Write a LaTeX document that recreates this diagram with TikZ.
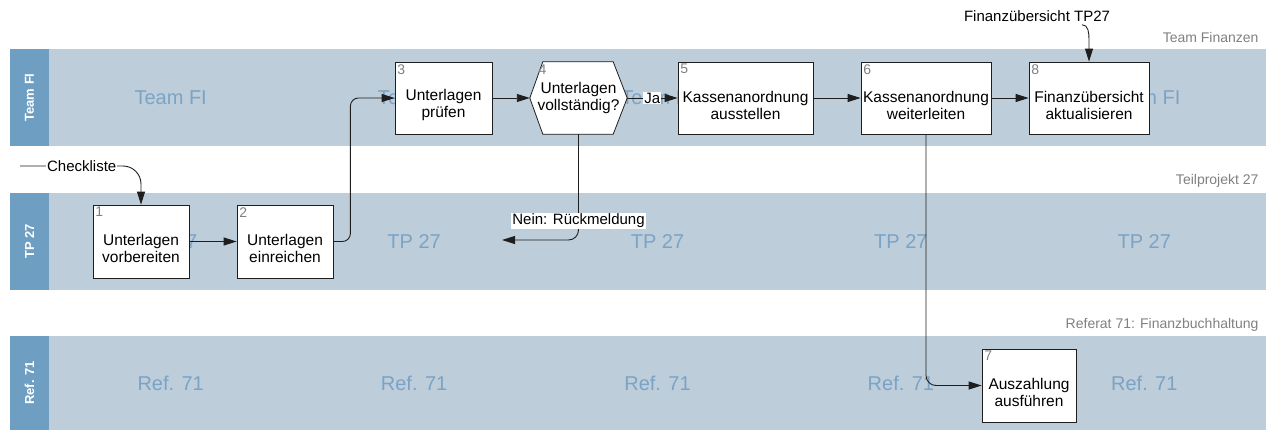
\documentclass[tikz,border=0pt]{standalone}
\usepackage{fontspec}
\setmainfont{Liberation Sans}
\usetikzlibrary{arrows.meta}

\definecolor{lanefill}{RGB}{190,205,218}
\definecolor{lanehead}{RGB}{110,158,194}
\definecolor{lanemark}{RGB}{122,163,198}
\definecolor{titlegray}{RGB}{128,128,128}
\definecolor{linegray}{RGB}{30,30,30}

\begin{document}
\begin{tikzpicture}[x=1pt, y=-1pt, >={Triangle[length=13pt,width=8pt]},
  box/.style={draw=linegray, line width=0.8pt, fill=white, inner sep=0pt},
  boxtext/.style={align=center, inner sep=1pt, font=\fontsize{15.5}{17}\selectfont},
  num/.style={anchor=north west, inner sep=2.5pt, text=titlegray, font=\fontsize{14}{14}\selectfont},
  flow/.style={->, draw=linegray, line width=0.9pt},
  lbl/.style={fill=white, sharp corners, inner sep=1pt, font=\fontsize{15}{17}\selectfont},
  headtext/.style={rotate=90, text=white, font=\bfseries\fontsize{13}{13}\selectfont},
  wmark/.style={text=lanemark, font=\fontsize{20}{20}\selectfont},
  lanetitle/.style={anchor=east, text=titlegray, font=\fontsize{14}{14}\selectfont}]

  % 全体の大きさ
  \useasboundingbox (0,0) rectangle (1271,431);

  % レーン (Team FI, TP 27, Ref. 71)
  \fill[lanehead] (10,49) rectangle (49,146);
  \fill[lanefill] (49,49) rectangle (1266,146);
  \fill[lanehead] (10,193) rectangle (49,290);
  \fill[lanefill] (49,193) rectangle (1266,290);
  \fill[lanehead] (10,336) rectangle (49,430);
  \fill[lanefill] (49,336) rectangle (1266,430);

  % レーン見出し
  \node[headtext] (h1) at (29.5,97.5) {Team FI};
  \node[headtext] (h2) at (29.5,241.5) {TP 27};
  \node[headtext] (h3) at (29.5,383) {Ref. 71};

  % 背景の文字
  \foreach \i in {0,...,4} {
    \node[wmark] (wa\i) at ({170.7+243.4*\i}, 97.5) {Team FI};
    \node[wmark] (wb\i) at ({170.7+243.4*\i}, 241.5) {TP 27};
    \node[wmark] (wc\i) at ({170.7+243.4*\i}, 383) {Ref. 71};
  }

  % レーン名 (右上)
  \node[lanetitle] (lt1) at (1262,37) {Team Finanzen};
  \node[lanetitle] (lt2) at (1262,181) {Teilprojekt 27};
  \node[lanetitle] (lt3) at (1262,325) {Referat 71: Finanzbuchhaltung};

  % 手順 1, 2 (TP 27)
  \node[box, minimum width=96pt, minimum height=73pt] (b1) at (141,241.5) {};
  \node[boxtext] (t1) at ([yshift=-7pt]b1.center) {Unterlagen\\vorbereiten};
  \node[num] (n1) at (b1.north west) {1};
  \node[box, minimum width=96pt, minimum height=73pt] (b2) at (285,241.5) {};
  \node[boxtext] (t2) at ([yshift=-7pt]b2.center) {Unterlagen\\einreichen};
  \node[num] (n2) at (b2.north west) {2};

  % 手順 3--8 (Team FI)
  \node[box, minimum width=97pt, minimum height=72pt] (b3) at (443.5,98) {};
  \node[boxtext] (t3) at ([yshift=-7pt]b3.center) {Unterlagen\\prüfen};
  \node[num] (n3) at (b3.north west) {3};

  % 判断 (六角形)
  \node[inner sep=0pt, minimum width=97pt, minimum height=72pt] (b4) at (578.5,98) {};
  \filldraw[draw=linegray, fill=white, line width=0.8pt]
    (b4.west) -- ([xshift=13pt]b4.north west) -- ([xshift=-14pt]b4.north east)
    -- (b4.east) -- ([xshift=-14pt]b4.south east) -- ([xshift=13pt]b4.south west) -- cycle;
  \node[boxtext] (t4) at (b4.center) {Unterlagen\\vollständig?};
  \node[num] (n4) at ([xshift=6pt]b4.north west) {4};

  \node[box, minimum width=135pt, minimum height=72pt] (b5) at (745.5,98) {};
  \node[boxtext] (t5) at ([yshift=-7pt]b5.center) {Kassenanordnung\\ausstellen};
  \node[num] (n5) at (b5.north west) {5};
  \node[box, minimum width=130pt, minimum height=72pt] (b6) at (926,98) {};
  \node[boxtext] (t6) at ([yshift=-7pt]b6.center) {Kassenanordnung\\weiterleiten};
  \node[num] (n6) at (b6.north west) {6};
  \node[box, minimum width=120pt, minimum height=72pt] (b8) at (1089,98) {};
  \node[boxtext] (t8) at ([yshift=-7pt]b8.center) {Finanzübersicht\\aktualisieren};
  \node[num] (n8) at (b8.north west) {8};

  % 手順 7 (Ref. 71)
  \node[box, minimum width=94pt, minimum height=73pt] (b7) at (1029,385.5) {};
  \node[boxtext] (t7) at ([yshift=-7pt]b7.center) {Auszahlung\\ausführen};
  \node[num] (n7) at (b7.north west) {7};

  % 入力
  \coordinate (cl) at (20,166);
  \draw[flow, rounded corners=18pt] (cl) -| node[lbl, pos=0.255] (ck) {Checkliste} (b1.north);
  \node[lbl] (fin) at (1037,16) {Finanzübersicht TP27};
  \draw[flow] ([xshift=45pt,yshift=-2pt]fin.south) to[out=0, in=90] ([yshift=22pt]b8.north) -- (b8.north);

  % 流れ
  \draw[flow] (b1) -- (b2);
  \draw[flow, rounded corners=8pt] (b2.east) -- ++(17,0) |- (b3.west);
  \draw[flow] (b3) -- (b4);
  \draw[flow] (b4) -- node[lbl] (ja) {Ja} (b5);
  \coordinate (cn) at (502,240);
  \draw[flow, rounded corners=10pt] (b4.south) |- node[lbl, pos=0.41] (nein) {Nein: Rückmeldung} (cn);
  \draw[flow] (b5) -- (b6);
  \draw[flow] (b6) -- (b8);
  \draw[flow, rounded corners=10pt] (b6.south) |- (b7.west);

\end{tikzpicture}
\end{document}
